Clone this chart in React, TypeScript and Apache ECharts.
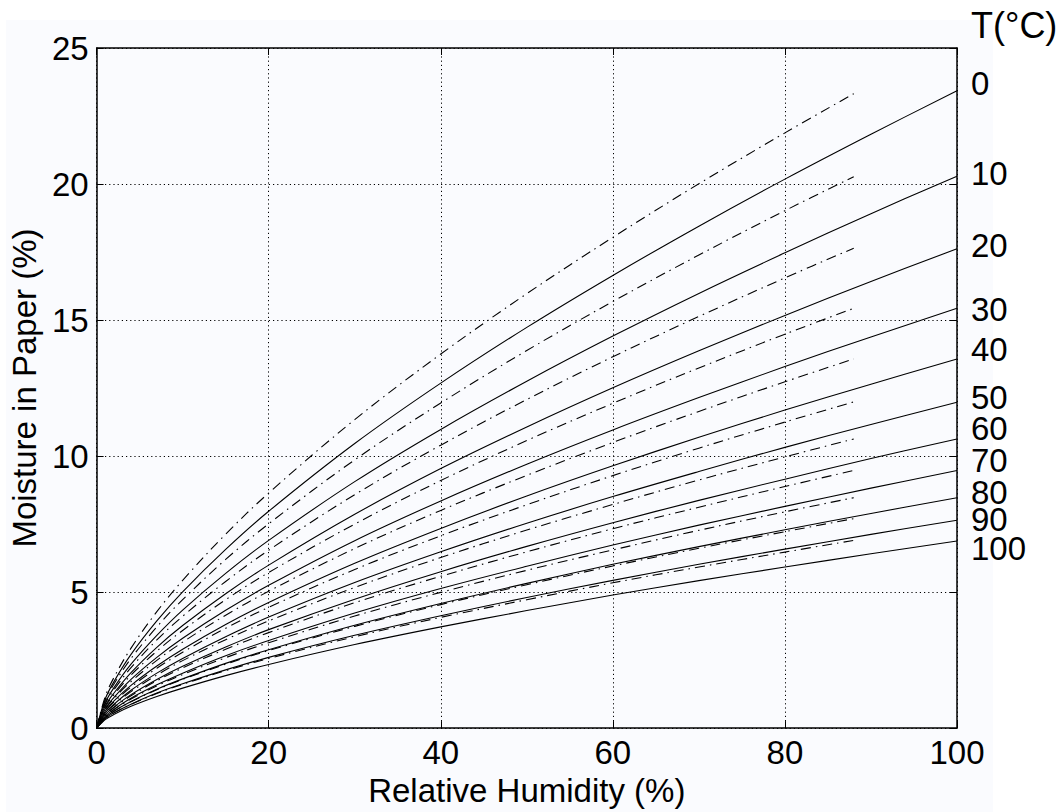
import React, { useEffect, useRef } from "react";
import * as echarts from "echarts";

// Relative humidity sampling (%)
const solidRH = [0, 1, 2, 4, 7, 10, 15, 20, 30, 40, 50, 60, 70, 80, 90, 100];
const dashRH = [0, 1, 2, 4, 7, 10, 15, 20, 30, 40, 50, 60, 70, 80, 88];

// Temperature labels (°C)
const tempLabels = ["0", "10", "20", "30", "40", "50", "60", "70", "80", "90", "100"];

// Solid curves: moisture in paper (%) vs RH
const solidT0 = [0, 1.07, 1.7, 2.71, 3.94, 5.01, 6.57, 7.97, 10.46, 12.68, 14.73, 16.64, 18.45, 20.18, 21.83, 23.43];
const solidT10 = [0, 0.93, 1.48, 2.35, 3.41, 4.34, 5.69, 6.9, 9.06, 10.98, 12.75, 14.41, 15.98, 17.47, 18.91, 20.29];
const solidT20 = [0, 0.81, 1.28, 2.04, 2.97, 3.77, 4.94, 5.99, 7.86, 9.54, 11.07, 12.51, 13.87, 15.17, 16.42, 17.62];
const solidT30 = [0, 0.71, 1.12, 1.79, 2.6, 3.3, 4.33, 5.25, 6.89, 8.35, 9.7, 10.96, 12.15, 13.29, 14.38, 15.43];
const solidT40 = [0, 0.62, 0.99, 1.57, 2.28, 2.9, 3.81, 4.62, 6.06, 7.34, 8.53, 9.64, 10.69, 11.69, 12.64, 13.57];
const solidT50 = [0, 0.55, 0.87, 1.39, 2.02, 2.56, 3.36, 4.08, 5.35, 6.48, 7.53, 8.51, 9.43, 10.32, 11.16, 11.98];
const solidT60 = [0, 0.49, 0.77, 1.23, 1.79, 2.27, 2.98, 3.62, 4.74, 5.75, 6.68, 7.55, 8.37, 9.15, 9.91, 10.63];
const solidT70 = [0, 0.43, 0.69, 1.1, 1.59, 2.02, 2.66, 3.22, 4.23, 5.13, 5.95, 6.73, 7.46, 8.15, 8.82, 9.47];
const solidT80 = [0, 0.39, 0.62, 0.98, 1.43, 1.81, 2.38, 2.88, 3.78, 4.58, 5.32, 6.02, 6.67, 7.29, 7.89, 8.47];
const solidT90 = [0, 0.35, 0.56, 0.88, 1.29, 1.63, 2.14, 2.6, 3.41, 4.13, 4.8, 5.43, 6.02, 6.58, 7.12, 7.64];
const solidT100 = [0, 0.31, 0.5, 0.8, 1.16, 1.47, 1.93, 2.34, 3.07, 3.72, 4.32, 4.89, 5.42, 5.92, 6.41, 6.88];

// Dash-dot curves (second data set, up to 88 % RH)
const dashT0 = [0, 1.16, 1.85, 2.94, 4.28, 5.43, 7.13, 8.64, 11.34, 13.75, 15.97, 18.04, 20.01, 21.88, 23.32];
const dashT10 = [0, 1.01, 1.61, 2.56, 3.72, 4.72, 6.2, 7.51, 9.86, 11.95, 13.88, 15.68, 17.39, 19.02, 20.27];
const dashT20 = [0, 0.88, 1.4, 2.22, 3.24, 4.11, 5.39, 6.54, 8.58, 10.4, 12.08, 13.65, 15.13, 16.55, 17.64];
const dashT30 = [0, 0.77, 1.22, 1.95, 2.83, 3.59, 4.72, 5.72, 7.5, 9.1, 10.57, 11.94, 13.24, 14.48, 15.43];
const dashT40 = [0, 0.68, 1.08, 1.71, 2.49, 3.16, 4.15, 5.03, 6.6, 8.0, 9.29, 10.5, 11.64, 12.73, 13.57];
const dashT50 = [0, 0.6, 0.95, 1.51, 2.2, 2.79, 3.67, 4.44, 5.83, 7.07, 8.21, 9.28, 10.29, 11.25, 11.99];
const dashT60 = [0, 0.53, 0.84, 1.34, 1.95, 2.48, 3.25, 3.94, 5.17, 6.27, 7.28, 8.22, 9.12, 9.97, 10.63];
const dashT70 = [0, 0.47, 0.75, 1.19, 1.74, 2.21, 2.9, 3.51, 4.61, 5.58, 6.48, 7.33, 8.12, 8.88, 9.47];
const dashT80 = [0, 0.42, 0.67, 1.07, 1.55, 1.97, 2.59, 3.14, 4.12, 4.99, 5.8, 6.55, 7.27, 7.95, 8.47];
const dashT90 = [0, 0.38, 0.61, 0.97, 1.41, 1.79, 2.35, 2.85, 3.74, 4.54, 5.27, 5.96, 6.61, 7.22, 7.7];
const dashT100 = [0, 0.34, 0.55, 0.87, 1.27, 1.61, 2.11, 2.56, 3.36, 4.07, 4.72, 5.34, 5.92, 6.47, 6.9];

const solidCurves = [solidT0, solidT10, solidT20, solidT30, solidT40, solidT50, solidT60, solidT70, solidT80, solidT90, solidT100];
const dashCurves = [dashT0, dashT10, dashT20, dashT30, dashT40, dashT50, dashT60, dashT70, dashT80, dashT90, dashT100];

// label layout (pixel centres of the right-hand temperature labels)
const labelY = [83, 173, 245, 309, 349, 397, 428, 460, 492, 519, 548];

const FONT = "'Liberation Sans', Arial, Helvetica, sans-serif";

export default function App() {
  const ref = useRef<HTMLDivElement>(null);
  useEffect(() => {
    if (!ref.current) return;
    const chart = echarts.init(ref.current, undefined, { renderer: "svg" });

    const series: any[] = [];
    solidCurves.forEach((vals, i) => {
      series.push({
        type: "line",
        name: "T" + tempLabels[i],
        xAxisIndex: 0,
        yAxisIndex: 0,
        data: solidRH.map((x, k) => [x, vals[k]]),
        showSymbol: false,
        symbol: "none",
        smooth: 0.35,
        lineStyle: { color: "#000", width: 1.1 },
        z: 3,
      });
    });
    dashCurves.forEach((vals, i) => {
      series.push({
        type: "line",
        name: "T" + tempLabels[i] + " (b)",
        xAxisIndex: 0,
        yAxisIndex: 0,
        data: dashRH.map((x, k) => [x, vals[k]]),
        showSymbol: false,
        symbol: "none",
        smooth: 0.35,
        lineStyle: { color: "#000", width: 1.1, type: [10, 5, 1.5, 5] },
        z: 3,
      });
    });

    const axisLine = { show: true, onZero: false, lineStyle: { color: "#000", width: 1.5 } };
    const tick = { show: true, inside: true, length: 7, lineStyle: { color: "#000", width: 1 } };
    const split = { show: true, lineStyle: { color: "#000", width: 1, type: [1.2, 3] } };
    const labelStyle = { color: "#000", fontSize: 33, fontFamily: FONT };

    const graphics: any[] = [
      {
        type: "rect",
        shape: { x: 6, y: 20, width: 987, height: 792 },
        style: { fill: "#fafbfe" },
        z: -100,
        silent: true,
      },
      {
        type: "text",
        x: 971,
        y: 25,
        style: { text: "T(°C)", fill: "#000", font: `36px ${FONT}`, verticalAlign: "middle", lineHeight: 30 },
      },
    ];
    tempLabels.forEach((t, i) => {
      graphics.push({
        type: "text",
        x: 971,
        y: labelY[i],
        style: { text: t, fill: "#000", font: `33px ${FONT}`, verticalAlign: "middle", lineHeight: 24 },
      });
    });

    chart.setOption({
      animation: false,
      backgroundColor: "#ffffff",
      grid: { left: 93, right: 107, top: 48, bottom: 81, show: false },
      xAxis: [
        {
          type: "value",
          min: 0,
          max: 100,
          interval: 20,
          position: "bottom",
          axisLine,
          axisTick: tick,
          axisLabel: { ...labelStyle, margin: 8 },
          splitLine: split,
          name: "Relative Humidity (%)",
          nameLocation: "middle",
          nameGap: 32,
          nameTextStyle: { ...labelStyle },
        },
        {
          type: "value",
          min: 0,
          max: 100,
          interval: 20,
          position: "top",
          axisLine,
          axisTick: tick,
          axisLabel: { show: false },
          splitLine: { show: false },
        },
      ],
      yAxis: [
        {
          type: "value",
          min: 0,
          max: 25,
          interval: 5,
          position: "left",
          axisLine,
          axisTick: tick,
          axisLabel: { ...labelStyle, margin: 8 },
          splitLine: split,
          name: "Moisture in Paper (%)",
          nameLocation: "middle",
          nameRotate: 90,
          nameGap: 49,
          nameTextStyle: { ...labelStyle },
        },
        {
          type: "value",
          min: 0,
          max: 25,
          interval: 5,
          position: "right",
          axisLine,
          axisTick: tick,
          axisLabel: { show: false },
          splitLine: { show: false },
        },
      ],
      graphic: graphics,
      series,
    });

    return () => chart.dispose();
  }, []);

  return (
    <div
      ref={ref}
      style={{ position: "absolute", left: 0, top: 0, width: 1064, height: 812 }}
    />
  );
}
